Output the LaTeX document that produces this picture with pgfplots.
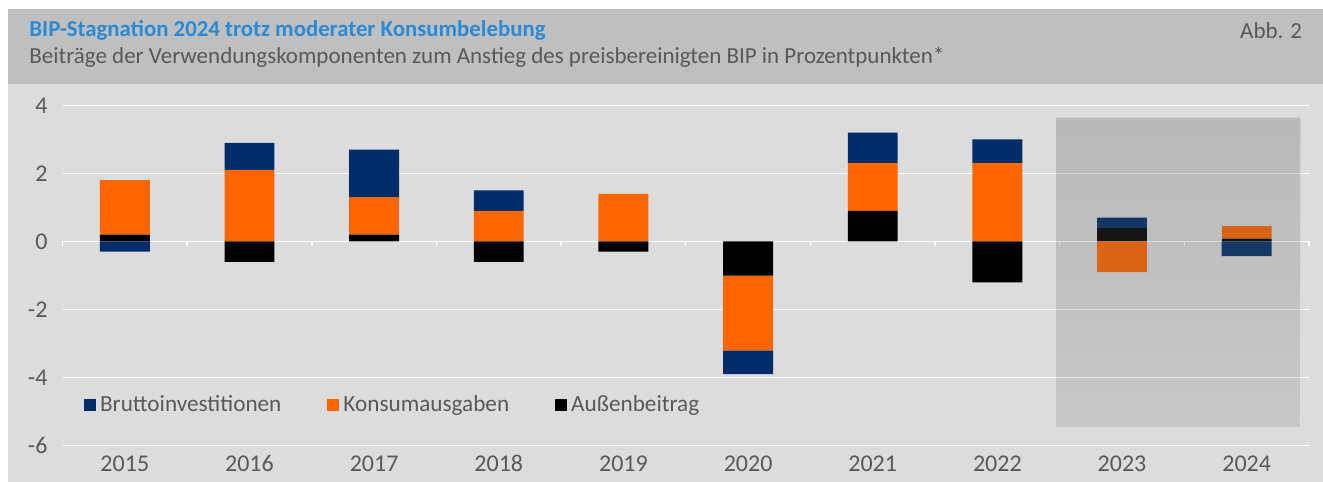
\documentclass[border=0pt]{standalone}
\usepackage{pgfplots}
\pgfplotsset{compat=1.18}
\usepackage{pgfplotstable}
\usepackage{fontspec}
\setmainfont{Carlito}
\definecolor{cblue}{HTML}{002D6A}
\definecolor{corange}{HTML}{FF6600}
\definecolor{cblack}{HTML}{000000}
\definecolor{bgdark}{HTML}{BFBFBF}
\definecolor{bglight}{HTML}{DCDCDC}
\definecolor{txtgray}{HTML}{595959}
\definecolor{titleblue}{HTML}{2A8AD6}
\definecolor{shade}{HTML}{838383}

% positive contributions (Aussenbeitrag A, Konsum K, Brutto B)
\pgfplotstableread{
x A K B
0 0.2 1.6 0
1 0 2.1 0.8
2 0.2 1.1 1.4
3 0 0.9 0.6
4 0 1.4 0
5 0 0 0
6 0.9 1.4 0.9
7 0 2.3 0.7
8 0.4 0 0.3
9 0.08 0.37 0
}\pos
% negative contributions
\pgfplotstableread{
x A K B
0 0 0 -0.3
1 -0.6 0 0
2 0 0 0
3 -0.6 0 0
4 -0.3 0 0
5 -1.0 -2.2 -0.7
6 0 0 0
7 -1.2 0 0
8 0 -0.9 0
9 0 0 -0.43
}\neg

\pgfplotsset{base/.style={
  scale only axis, width=623.25pt, height=170.2pt,
  at={(31.25pt,-222.85pt)}, anchor=south west,
  xmin=-0.5, xmax=9.5, ymin=-6, ymax=4,
  ybar stacked, bar width=0.4, clip=false,
}}

\begin{document}
\begin{tikzpicture}[x=0.5pt,y=-0.5pt]
\useasboundingbox (0,0) rectangle (1323,482);
\fill[white] (0,0) rectangle (1323,482);
\fill[bgdark] (8,9) rectangle (1323,84);
\fill[bglight] (8,84) rectangle (1323,482);
\node[anchor=base west, inner sep=0pt, text=titleblue, font=\fontsize{11.4}{13}\selectfont\bfseries] at (29,36) {BIP-Stagnation 2024 trotz moderater Konsumbelebung};
\node[anchor=base west, inner sep=0pt, text=txtgray, font=\fontsize{11.5}{13}\selectfont] at (29,63.3) {Beiträge der Verwendungskomponenten zum Anstieg des preisbereinigten BIP in Prozentpunkten*};
\node[anchor=base east, inner sep=0pt, text=txtgray, font=\fontsize{11.5}{13}\selectfont] at (1302.5,38.3) {Abb. 2};

\begin{axis}[base,
  axis line style={draw=none},
  ymajorgrids, grid style={white, line width=0.7pt},
  ytick={-6,-4,...,4},
  xtick={0,...,9},
  xticklabels={2015,2016,2017,2018,2019,2020,2021,2022,2023,2024},
  major tick length=0pt,
  /pgf/number format/assume math mode=true,
  tick label style={font=\fontsize{12}{14}\selectfont, text=txtgray},
  yticklabel style={xshift=-4pt},
  xticklabel style={text height=8.5pt, text depth=0pt, yshift=-1pt},
  legend image code/.code={\fill[#1] (0pt,-3pt) rectangle (6pt,3pt);},
  legend style={at={(axis cs:-0.33,-4.8)}, anchor=west, draw=none, fill=none,
    legend columns=3, font=\fontsize{11.6}{14}\selectfont, text=txtgray,
    inner sep=0pt, /tikz/every even column/.append style={column sep=21pt}},
  legend cell align=left,
  legend entries={Bruttoinvestitionen,Konsumausgaben,Außenbeitrag},
]
\addlegendimage{fill=cblue, draw=none}
\addlegendimage{fill=corange, draw=none}
\addlegendimage{fill=cblack, draw=none}
\addplot[fill=cblack, draw=none] table[x=x,y=A]{\pos};
\addplot[fill=corange, draw=none] table[x=x,y=K]{\pos};
\addplot[fill=cblue, draw=none] table[x=x,y=B]{\pos};
\pgfplotsinvokeforeach{-0.5,0.5,...,9.5}{
  \draw[white, line width=0.7pt] (axis cs:#1,0) -- ([yshift=-2.5pt]axis cs:#1,0);
}
\end{axis}

\begin{axis}[base, hide axis]
\addplot[fill=cblack, draw=none] table[x=x,y=A]{\neg};
\addplot[fill=corange, draw=none] table[x=x,y=K]{\neg};
\addplot[fill=cblue, draw=none] table[x=x,y=B]{\neg};
\end{axis}

\begin{axis}[base, hide axis]
\fill[shade, fill opacity=0.12, draw=none] (axis cs:7.47,-5.44) rectangle (axis cs:9.43,3.63);
\end{axis}
\end{tikzpicture}
\end{document}
